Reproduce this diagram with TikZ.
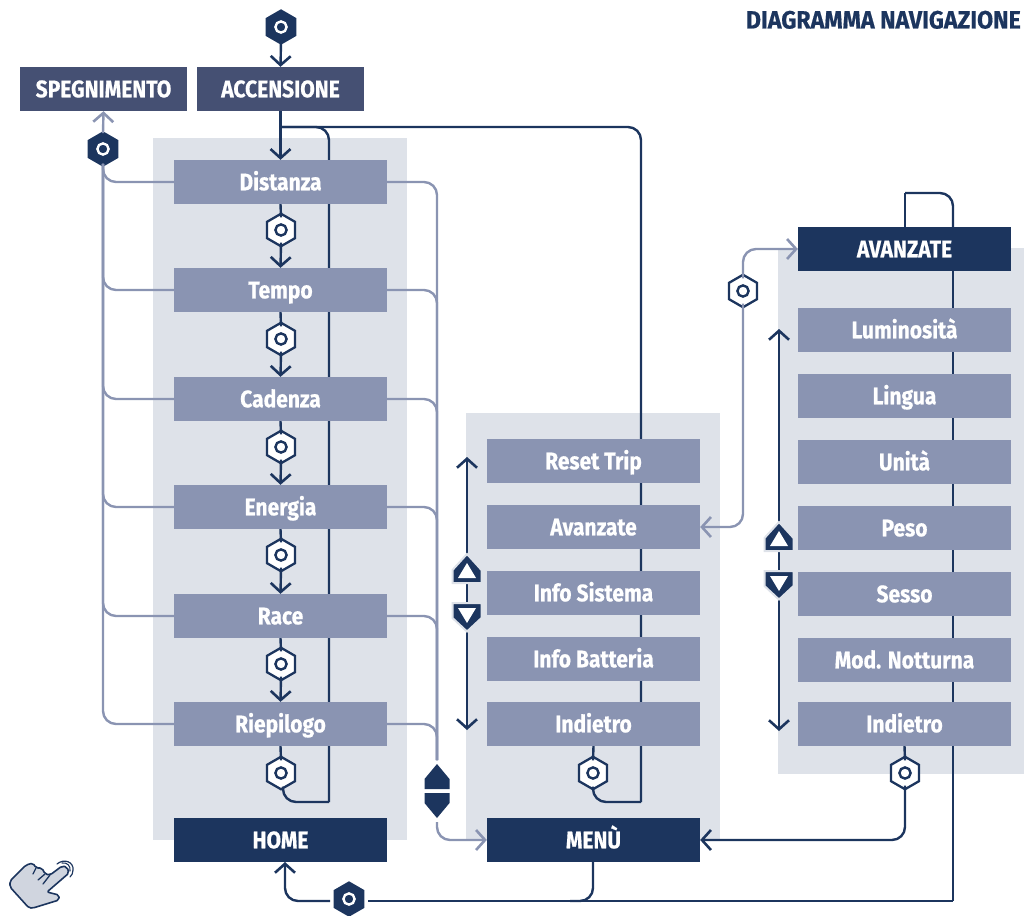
\documentclass[tikz,border=0pt]{standalone}
\usepackage{fontspec}
\setmainfont{Fira Sans}[BoldFont={Fira Sans Bold},BoldFeatures={FakeStretch=0.875,FakeBold=0.6}]
\newfontfamily\titlefont{Fira Sans Bold}[FakeStretch=0.93,FakeBold=0.6]
\usetikzlibrary{arrows.meta,shapes.geometric,calc}
\definecolor{navy}{HTML}{1C355E}
\definecolor{midb}{HTML}{8A94B2}
\definecolor{slate}{HTML}{455073}
\definecolor{pane}{HTML}{DEE2E9}
\definecolor{handc}{HTML}{D0D5DF}
\tikzset{
  x=1pt,y=-1pt,
  boxbase/.style={minimum width=213pt,minimum height=44pt,inner sep=0pt,text=white,text height=16.6pt,text depth=0pt,font=\fontsize{24}{24}\selectfont\bfseries},
  item/.style={boxbase,fill=midb},
  head/.style={boxbase,fill=navy},
  power/.style={boxbase,fill=slate,minimum width=167pt},
  hexbase/.style={regular polygon,regular polygon sides=6,shape border rotate=30,inner sep=0pt},
  hexo/.style={hexbase,minimum size=32.5pt,draw=navy,line width=2.3pt,fill=white,path picture={\draw[navy,line width=2.4pt] (path picture bounding box.center) circle (5.6pt);}},
  hexf/.style={hexbase,minimum size=35.5pt,fill=navy,path picture={\draw[white,line width=2.4pt] (path picture bounding box.center) circle (5.6pt);}},
  dk/.style={draw=navy,line width=2.4pt},
  lt/.style={draw=midb,line width=2.4pt},
  rd/.style={rounded corners=13pt},
  tip/.style={-{Straight Barb[length=9pt,width=20pt,line width=2.6pt]}},
  title/.style={text=navy,inner sep=0pt,anchor=east,text height=17pt,text depth=0pt,font=\fontsize{25}{25}\selectfont\titlefont},
}
\begin{document}
\begin{tikzpicture}
\useasboundingbox (0,0) rectangle (1024,915);
% panels
\fill[pane] (153,138) rectangle (407,840);
\fill[pane] (466,413) rectangle (720,840);
\fill[pane] (778,248) rectangle (1024,774);
% coordinates of connector joints
\coordinate (tap) at (281,127);
\coordinate (loopL) at (329,802);
\coordinate (loopM) at (641,802);
\coordinate (udtop) at (437,760);
\coordinate (udbot) at (437,822);
\coordinate (ud) at (437,791);
\coordinate (busR) at (953,901);
\coordinate (homeIn) at (285,862);
\coordinate (loopTL) at (905,227);
\coordinate (loopTR) at (953,193);
\coordinate (mUpT) at (467,457);
\coordinate (mDnT) at (467,730);
\coordinate (aUpT) at (779,329);
\coordinate (aDnT) at (779,731);
\coordinate (mU) at (467,570);
\coordinate (mD) at (467,618);
\coordinate (aU) at (779,538);
\coordinate (aD) at (779,586);
% hex nodes
\node[hexf] (hon) at (281,27) {};
\node[hexf] (hoff) at (103,149) {};
\node[hexo] (h1) at (281,230) {};
\node[hexo] (h2) at (281,339) {};
\node[hexo] (h3) at (281,447) {};
\node[hexo] (h4) at (281,555) {};
\node[hexo] (h5) at (281,664) {};
\node[hexo] (h6) at (281,773) {};
\node[hexo] (hm) at (593,773) {};
\node[hexo] (ha) at (905,773) {};
\node[hexo] (hr) at (743,291) {};
\node[hexf] (hb) at (349,899) {};
% connectors under boxes
\draw[dk,rd] ([yshift=4pt]hm.south) |- (loopM);
\draw[dk,rd] (loopM) -- (641,127) -- (tap);
\draw[dk,rd] ([xshift=2pt,yshift=4pt]h6.south) |- (loopL);
\draw[dk,rd] (loopL) -- (329,127) -- (tap);
\draw[dk] (busR) -- (953,227);
\draw[dk,rd] (953,227) -- (loopTR) -- (905,193);
\draw[dk] (905,193) -- (loopTL);
\draw[dk] (368,901) -- (busR);
\draw[dk,rd] (593,862) -- (593,901) -- (570,901);
\draw[dk,rd,tip] (330,901) -- (285,901) -- (homeIn);
% boxes
\node[power] (spe) at (103.5,89) {SPEGNIMENTO};
\node[power] (acc) at (280.5,89) {ACCENSIONE};
\node[item] (d1) at (280.5,182) {Distanza};
\node[item] (d2) at (280.5,290) {Tempo};
\node[item] (d3) at (280.5,399) {Cadenza};
\node[item] (d4) at (280.5,507) {Energia};
\node[item] (d5) at (280.5,616) {Race};
\node[item] (d6) at (280.5,724) {Riepilogo};
\node[head] (home) at (280.5,840) {HOME};
\node[item] (m1) at (593.5,461) {Reset Trip};
\node[item] (m2) at (593.5,527) {Avanzate};
\node[item] (m3) at (593.5,593) {Info Sistema};
\node[item] (m4) at (593.5,659) {Info Batteria};
\node[item] (m5) at (593.5,724) {Indietro};
\node[head] (menu) at (593.5,840) {MENÙ};
\node[head] (adv) at (904.5,249) {AVANZATE};
\node[item] (a1) at (904.5,330) {Luminosità};
\node[item] (a2) at (904.5,396) {Lingua};
\node[item] (a3) at (904.5,462) {Unità};
\node[item] (a4) at (904.5,528) {Peso};
\node[item] (a5) at (904.5,594) {Sesso};
\node[item] (a6) at (904.5,660) {Mod. Notturna};
\node[item] (a7) at (904.5,724) {Indietro};
\node[title] (ttl) at (1021,20) {DIAGRAMMA NAVIGAZIONE};
% connectors over boxes
\draw[dk,tip] ([yshift=4pt]hon.south) -- (acc.north);
\draw[dk,tip] (acc.south) -- (d1.north);
\draw[lt,tip] ([yshift=-2pt]hoff.north) -- (spe.south);
\foreach \a/\h/\b in {d1/h1/d2,d2/h2/d3,d3/h3/d4,d4/h4/d5,d5/h5/d6}{
  \draw[dk] (\a.south) -- ([yshift=-5pt]\h.north);
  \draw[dk,tip] ([yshift=5pt]\h.south) -- (\b.north);
}
\draw[dk] (d6.south) -- ([yshift=-5pt]h6.north);
\draw[dk] (m5.south) -- ([yshift=-5pt]hm.north);
\draw[dk] (a7.south) -- ([yshift=-5pt]ha.north);
\draw[dk,rd,tip] ([yshift=5pt]ha.south) |- (menu.east);
% light connectors
\foreach \a in {d1,d2,d3,d4,d5,d6}{
  \draw[lt,rd] (\a.west) -| ([yshift=3pt]hoff.south);
  \draw[lt,rd] (\a.east) -| (udtop);
}
\draw[lt,rd,tip] (udbot) |- (menu.west);
\draw[lt,rd,tip] ([yshift=-5pt]hr.north) |- (adv.west);
\draw[lt,rd,tip] ([yshift=5pt]hr.south) |- (m2.east);
% vertical scroll arrows
\draw[dk,tip] (467,558) -- (mUpT);
\draw[dk] (467,584) -- (467,604);
\draw[dk,tip] (467,630) -- (mDnT);
\draw[dk,tip] (779,526) -- (aUpT);
\draw[dk] (779,551) -- (779,573);
\draw[dk,tip] (779,597) -- (aDnT);
% up/down double marker
\fill[navy] ([shift={(0,-27)}]ud) -- ([shift={(12.5,-12)}]ud) -- ([shift={(12.5,-2)}]ud) -- ([shift={(-12.5,-2)}]ud) -- ([shift={(-12.5,-12)}]ud) -- cycle;
\fill[navy] ([shift={(0,27)}]ud) -- ([shift={(12.5,12)}]ud) -- ([shift={(12.5,2)}]ud) -- ([shift={(-12.5,2)}]ud) -- ([shift={(-12.5,12)}]ud) -- cycle;
% triangle markers
\foreach \c in {mU,aU}{
  \fill[navy,draw=pane,line width=2pt] ([shift={(0,-16)}]\c) -- ([shift={(14.5,0)}]\c) -- ([shift={(14.5,13)}]\c) -- ([shift={(-14.5,13)}]\c) -- ([shift={(-14.5,0)}]\c) -- cycle;
  \fill[white] ([shift={(0,-7)}]\c) -- ([shift={(9,8)}]\c) -- ([shift={(-9,8)}]\c) -- cycle;
}
\foreach \c in {mD,aD}{
  \fill[navy,draw=pane,line width=2pt] ([shift={(0,13.5)}]\c) -- ([shift={(14.5,0)}]\c) -- ([shift={(14.5,-15)}]\c) -- ([shift={(-14.5,-15)}]\c) -- ([shift={(-14.5,0)}]\c) -- cycle;
  \fill[white] ([shift={(0,5)}]\c) -- ([shift={(9,-10)}]\c) -- ([shift={(-9,-10)}]\c) -- cycle;
}
% hand icon
\draw[navy,fill=handc,line width=1.6pt,line join=round,rounded corners=2pt]
 (29,908) -- (10,887) -- (10,881) -- (26,865) -- (33,863) -- (36,868) -- (42,868) -- (45,874) -- (50,875) -- (62,866) -- (67,867) -- (69,873) -- (47,892) -- (59,895) -- (59,900) -- (33,908) -- cycle;
\draw[navy,line width=1.3pt,line cap=round] (36,868) -- (33,874);
\draw[navy,line width=1.3pt,line cap=round] (45,874) -- (38,880);
\draw[navy,line width=1.3pt,line cap=round] (50,875) -- (43,884);
\draw[navy,line width=1.2pt,line cap=round] (57,864) .. controls (64,858) and (74,862) .. (73,870) .. controls (73,873) and (72,875) .. (70,877);
\draw[navy,line width=1.1pt,line cap=round] (62,863) .. controls (67,862) and (71,866) .. (70,871);
\end{tikzpicture}
\end{document}
